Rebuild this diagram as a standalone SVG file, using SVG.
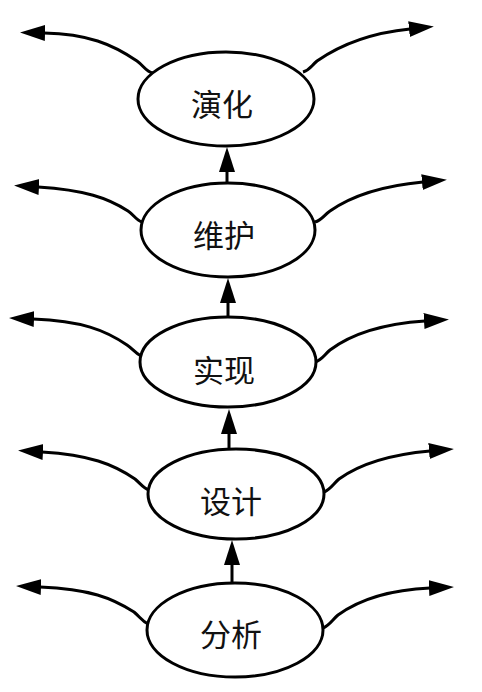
<svg xmlns="http://www.w3.org/2000/svg" width="482" height="692" viewBox="0 0 482 692">
  <style>
    .node ellipse { fill: #ffffff; stroke: #000000; stroke-width: 3; }
    .node text { font-family: "Noto Sans CJK SC", "Noto Sans", sans-serif; font-size: 31px; fill: #111111; text-anchor: middle; dominant-baseline: central; }
    .conn path { fill: none; stroke: #000000; stroke-width: 3; marker-end: url(#arrow); }
  </style>
  <defs>
    <marker id="arrow" markerUnits="userSpaceOnUse" markerWidth="26" markerHeight="18" viewBox="0 0 26 18" refX="1" refY="9" orient="auto">
      <path d="M0,1 L25,9 L0,17 Z" fill="#000000"/>
    </marker>
  </defs>
  <rect width="482" height="692" fill="#ffffff"/>
  <g id="connectors" class="conn">
    <path d="M153,73 C146,72 144,66 137,61 C112,44 88,34 44,33"/>
    <path d="M303,72 C310,70 311,66 317,61 C340,45 370,33 410,29"/>
    <path d="M142,222 C136,220 134,215 128,211 C108,198 85,190 38,187"/>
    <path d="M315,222 C322,220 324,215 330,211 C350,197 380,186 423,182"/>
    <path d="M141,356 C135,353 133,349 127,345 C105,330 82,321 33,319"/>
    <path d="M315,362 C322,360 324,355 330,350 C350,335 380,324 425,321"/>
    <path d="M149,490 C143,488 141,484 135,479 C113,464 90,455 42,452"/>
    <path d="M324,492 C331,489 333,484 339,479 C357,466 385,455 430,451"/>
    <path d="M148,624 C142,621 140,617 134,612 C112,598 90,589 40,587"/>
    <path d="M323,628 C330,625 332,620 338,615 C356,602 385,590 430,588"/>
    <path d="M227,184 L227,171"/>
    <path d="M228,318 L228,302"/>
    <path d="M229,451 L229,433"/>
    <path d="M232,584 L232,564"/>
  </g>
  <g id="node-yanhua" class="node">
    <ellipse cx="226" cy="99" rx="88" ry="47"/>
    <text x="222" y="102">演化</text>
  </g>
  <g id="node-weihu" class="node">
    <ellipse cx="228" cy="230" rx="87" ry="47"/>
    <text x="224" y="233">维护</text>
  </g>
  <g id="node-shixian" class="node">
    <ellipse cx="228" cy="362" rx="88" ry="45"/>
    <text x="224" y="368">实现</text>
  </g>
  <g id="node-sheji" class="node">
    <ellipse cx="236" cy="494" rx="88" ry="45"/>
    <text x="231" y="499">设计</text>
  </g>
  <g id="node-fenxi" class="node">
    <ellipse cx="235" cy="630" rx="88" ry="47"/>
    <text x="231" y="632">分析</text>
  </g>
</svg>
